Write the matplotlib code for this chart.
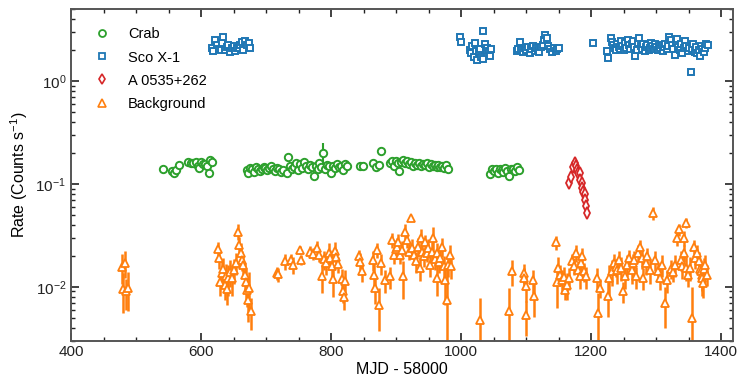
import numpy as np
import matplotlib
matplotlib.use("Agg")
import matplotlib.pyplot as plt
from matplotlib.ticker import MultipleLocator, LogLocator, NullFormatter

plt.rcParams['font.family'] = ['Liberation Sans', 'DejaVu Sans']
plt.rcParams['mathtext.fontset'] = 'custom'
plt.rcParams['mathtext.rm'] = 'Liberation Sans'
plt.rcParams['mathtext.it'] = 'Liberation Sans:italic'

# Crab (MJD - 58000, rate, error)
crab_mjd = [542, 555, 558, 562, 566,
            580, 585, 588, 592, 595, 597, 600, 603, 606, 609, 612, 613, 616,
            670, 672, 675, 678, 681, 684, 687, 690, 693, 696, 699, 702, 705, 708, 711, 714, 717, 720, 723, 726,
            732, 734, 737, 740, 743, 746, 749, 752, 755, 758, 761, 764, 767, 770, 773, 776, 779, 782, 785, 788,
            791, 794, 797, 800, 803, 806, 809, 812, 815, 818, 821, 824,
            845, 849, 865, 869, 873, 876,
            891, 894, 897, 900, 903, 905, 908, 911, 914, 917, 920, 923, 926, 929, 932, 935, 938, 941, 944, 947,
            950, 953, 956, 959, 962, 965, 968, 971, 974, 977, 980,
            1045, 1047, 1050, 1053, 1056, 1059, 1062, 1065, 1068, 1071, 1074, 1077, 1080, 1083, 1086, 1089]
crab_rate = [0.140, 0.134, 0.128, 0.137, 0.152,
             0.164, 0.158, 0.160, 0.162, 0.150, 0.144, 0.164, 0.155, 0.157, 0.148, 0.128, 0.171, 0.162,
             0.135, 0.128, 0.142, 0.138, 0.130, 0.145, 0.140, 0.133, 0.138, 0.146, 0.141, 0.136, 0.143, 0.148, 0.139, 0.134, 0.144, 0.140, 0.131, 0.137,
             0.128, 0.184, 0.150, 0.138, 0.145, 0.160, 0.135, 0.155, 0.142, 0.163, 0.148, 0.138, 0.152, 0.145, 0.120, 0.150, 0.140, 0.158, 0.146, 0.200,
             0.138, 0.152, 0.148, 0.128, 0.150, 0.142, 0.156, 0.145, 0.150, 0.137, 0.155, 0.148,
             0.150, 0.148, 0.160, 0.145, 0.153, 0.210,
             0.158, 0.165, 0.150, 0.168, 0.160, 0.132, 0.162, 0.170, 0.158, 0.166, 0.155, 0.163, 0.150, 0.158, 0.152, 0.160, 0.148, 0.156, 0.151, 0.158,
             0.146, 0.155, 0.149, 0.153, 0.145, 0.152, 0.147, 0.150, 0.143, 0.152, 0.138,
             0.125, 0.140, 0.132, 0.138, 0.128, 0.140, 0.135, 0.130, 0.142, 0.134, 0.118, 0.138, 0.140, 0.132, 0.145, 0.136]
crab_err = [0.008, 0.010, 0.006, 0.006, 0.006,
            0.006, 0.006, 0.006, 0.006, 0.006, 0.008, 0.006, 0.006, 0.006, 0.006, 0.006, 0.006, 0.006,
            0.006, 0.006, 0.006, 0.006, 0.006, 0.006, 0.006, 0.006, 0.006, 0.006, 0.006, 0.006, 0.006, 0.006, 0.006, 0.006, 0.006, 0.006, 0.006, 0.006,
            0.006, 0.008, 0.006, 0.006, 0.006, 0.006, 0.006, 0.006, 0.006, 0.006, 0.006, 0.006, 0.006, 0.006, 0.006, 0.006, 0.006, 0.006, 0.006, 0.050,
            0.006, 0.006, 0.006, 0.006, 0.006, 0.006, 0.006, 0.006, 0.006, 0.006, 0.006, 0.006,
            0.006, 0.006, 0.006, 0.006, 0.006, 0.020,
            0.006, 0.006, 0.006, 0.006, 0.006, 0.006, 0.006, 0.006, 0.006, 0.006, 0.006, 0.006, 0.006, 0.006, 0.006, 0.006, 0.006, 0.006, 0.006, 0.006,
            0.006, 0.006, 0.006, 0.006, 0.006, 0.006, 0.006, 0.006, 0.006, 0.006, 0.008,
            0.010, 0.006, 0.006, 0.006, 0.006, 0.006, 0.006, 0.006, 0.006, 0.006, 0.012, 0.006, 0.006, 0.006, 0.006, 0.006]

# Sco X-1
sco_mjd = [616, 618, 621, 624, 627, 630, 632, 634, 637, 640, 642, 645, 647, 650, 652, 655, 658, 660, 663, 665, 668, 670, 673, 675,
           998, 999, 1013, 1015, 1017, 1019, 1021, 1023, 1025, 1027, 1029, 1031, 1033, 1034, 1036, 1038, 1040, 1042, 1044, 1046,
           1086, 1088, 1090, 1092, 1095, 1098, 1100, 1103, 1106, 1108, 1110, 1113, 1115, 1118, 1120, 1122, 1125, 1127, 1129,
           1132, 1134, 1137, 1140, 1142, 1145, 1148, 1151,
           1202, 1224, 1226, 1230, 1232, 1234, 1236, 1238, 1240, 1242, 1244, 1246, 1248, 1250, 1252, 1254, 1256, 1258, 1260,
           1262, 1264, 1266, 1268, 1270, 1272, 1274, 1276, 1278, 1280, 1282, 1284, 1286, 1288, 1290, 1292, 1294, 1296, 1298,
           1300, 1302, 1304, 1306, 1308, 1310, 1312, 1314, 1316, 1318, 1320, 1322, 1324, 1326, 1328, 1330, 1332, 1334, 1336,
           1338, 1340, 1342, 1344, 1346, 1348, 1350, 1353, 1355, 1357, 1359, 1361, 1363, 1365, 1367, 1369, 1371, 1373, 1375,
           1377, 1380]
sco_rate = [2.08, 1.95, 2.50, 2.24, 2.05, 1.98, 2.34, 2.69, 2.00, 2.15, 2.24, 1.92, 2.08, 2.20, 1.97, 2.08, 2.10, 2.24, 2.37, 2.00, 2.45, 2.25, 2.34, 2.10,
            2.65, 2.41, 2.00, 1.85, 2.20, 1.70, 2.35, 1.95, 1.60, 1.90, 2.05, 1.70, 3.08, 1.62, 2.30, 2.00, 2.10, 1.95, 1.75, 2.05,
            1.95, 2.05, 2.40, 2.00, 1.90, 2.10, 2.00, 2.15, 1.85, 2.05, 2.20, 1.95, 2.10, 2.00, 1.90, 2.15, 2.25, 2.50, 2.80,
            2.60, 2.20, 2.05, 1.90, 2.10, 1.95, 2.05, 2.10,
            2.36, 1.95, 1.66, 2.60, 2.40, 2.25, 2.10, 2.00, 2.30, 2.15, 2.05, 2.45, 2.20, 2.00, 2.35, 2.10, 2.50, 2.25, 2.05,
            2.30, 2.45, 2.15, 1.75, 2.00, 2.35, 2.60, 2.20, 2.05, 2.30, 1.95, 2.15, 2.25, 2.00, 2.10, 2.35, 2.20, 2.05, 2.30,
            2.15, 2.00, 2.20, 2.10, 2.25, 1.95, 2.15, 2.30, 2.05, 2.20, 2.70, 2.50, 2.25, 2.05, 1.80, 2.40, 2.55, 2.15, 2.00,
            2.30, 1.85, 2.10, 2.45, 2.20, 1.95, 2.10, 1.21, 2.05, 2.30, 1.90, 2.15, 1.85, 2.00, 1.75, 2.20, 2.05, 1.90, 2.10,
            2.30, 2.25]

# A 0535+262
a0535_mjd = [1166, 1169, 1172, 1175, 1177, 1178, 1180, 1182, 1183, 1185, 1186, 1188, 1190, 1191, 1192, 1194]
a0535_rate = [0.102, 0.117, 0.146, 0.160, 0.150, 0.137, 0.128, 0.128, 0.109, 0.102, 0.092, 0.083, 0.080, 0.070, 0.061, 0.052]

# Background
bkg_mjd = [478, 480, 483, 485, 487,
           626, 627, 629, 632, 634, 636, 638, 640, 642, 645, 648, 651, 654, 656, 658, 661, 663, 665, 667, 669, 670, 672, 674, 676,
           716, 718, 729, 738, 741, 752, 754, 767, 772, 778, 782, 786, 789, 792, 796, 798, 801, 803, 806, 808, 811,
           816, 818, 820, 822, 843, 845, 847, 864, 866, 867, 871, 873, 876, 883, 891,
           894, 896, 899, 901, 903, 906, 909, 911, 914, 917, 920, 922, 925, 928, 931, 934, 937, 938, 940, 942, 945, 947,
           949, 952, 955, 957, 960, 962, 963, 966, 968, 971, 974, 975, 978, 980, 982, 985,
           1029, 1074, 1078, 1096, 1097, 1099, 1100, 1111, 1112,
           1146, 1147, 1149, 1152, 1155, 1158, 1160, 1163, 1165, 1171, 1174, 1177, 1180, 1182, 1184, 1186, 1189, 1192,
           1209, 1211, 1214, 1225, 1227, 1232, 1235, 1238, 1240, 1243, 1246, 1249, 1252, 1255, 1258, 1262, 1264, 1266,
           1269, 1272, 1275, 1278, 1280, 1284, 1286, 1291, 1295, 1298, 1302, 1306, 1309, 1314, 1317, 1322, 1326, 1329,
           1332, 1335, 1338, 1340, 1342, 1343, 1345, 1346, 1349, 1352, 1355, 1358, 1360, 1362, 1365, 1367, 1368, 1370,
           1371, 1372, 1374, 1375, 1378]
bkg_rate = [0.0157, 0.0096, 0.0171, 0.0090, 0.0098,
            0.0235, 0.0190, 0.0112, 0.0137, 0.0150, 0.0105, 0.0128, 0.0096, 0.0122, 0.0140, 0.0122, 0.0146, 0.0171, 0.0343,
            0.0256, 0.0214, 0.0183, 0.0163, 0.0130, 0.0112, 0.0094, 0.0075, 0.0098, 0.0058,
            0.0137, 0.0132, 0.0177, 0.0180, 0.0163, 0.0229, 0.0183, 0.0220, 0.0210, 0.0240, 0.0205, 0.0126, 0.0185, 0.0170,
            0.0215, 0.0190, 0.0160, 0.0120, 0.0225, 0.0195, 0.0165,
            0.0120, 0.0090, 0.0080, 0.0115, 0.0198, 0.0175, 0.0141, 0.0183, 0.0130, 0.0098, 0.0229, 0.0067, 0.0170, 0.0117, 0.0126,
            0.0286, 0.0205, 0.0235, 0.0246, 0.0275, 0.0205, 0.0230, 0.0126, 0.0343, 0.0286, 0.0220, 0.0470, 0.0239, 0.0205,
            0.0177, 0.0246, 0.0153, 0.0300, 0.0220, 0.0197, 0.0270, 0.0215,
            0.0239, 0.0163, 0.0220, 0.0300, 0.0185, 0.0214, 0.0122, 0.0175, 0.0190, 0.0246, 0.0159, 0.0117, 0.0075, 0.0163, 0.0205, 0.0159,
            0.0048, 0.0058, 0.0141, 0.0137, 0.0122, 0.0101, 0.0053, 0.0117, 0.0081,
            0.0270, 0.0112, 0.0153, 0.0131, 0.0117, 0.0125, 0.0094, 0.0105, 0.0122, 0.0177, 0.0159, 0.0214, 0.0146, 0.0126,
            0.0170, 0.0197, 0.0141, 0.0126,
            0.0122, 0.0056, 0.0098, 0.0081, 0.0122, 0.0141, 0.0170, 0.0155, 0.0146, 0.0183, 0.0153, 0.0090, 0.0126, 0.0163,
            0.0190, 0.0146, 0.0170, 0.0183,
            0.0126, 0.0214, 0.0246, 0.0190, 0.0122, 0.0170, 0.0197, 0.0146, 0.0520, 0.0183, 0.0141, 0.0122, 0.0163, 0.0070,
            0.0117, 0.0150, 0.0140, 0.0163,
            0.0300, 0.0360, 0.0183, 0.0160, 0.0214, 0.0300, 0.0420, 0.0153, 0.0130, 0.0153, 0.0050, 0.0246, 0.0190, 0.0214,
            0.0177, 0.0150, 0.0141, 0.0130,
            0.0122, 0.0108, 0.0150, 0.0163, 0.0131]
bkg_err = [0.005, 0.004, 0.005, 0.003, 0.004,
           0.004, 0.004, 0.003, 0.004, 0.004, 0.003, 0.004, 0.003, 0.004, 0.004, 0.004, 0.004, 0.004, 0.006,
           0.005, 0.005, 0.004, 0.004, 0.004, 0.004, 0.003, 0.003, 0.004, 0.002,
           0.002, 0.002, 0.003, 0.003, 0.003, 0.002, 0.002, 0.003, 0.003, 0.004, 0.003, 0.004, 0.004, 0.004,
           0.005, 0.004, 0.004, 0.004, 0.005, 0.004, 0.003,
           0.003, 0.002, 0.002, 0.003, 0.003, 0.004, 0.003, 0.004, 0.004, 0.003, 0.004, 0.003, 0.004, 0.003, 0.003,
           0.005, 0.004, 0.005, 0.005, 0.005, 0.004, 0.005, 0.005, 0.006, 0.005, 0.004, 0.001, 0.005, 0.004,
           0.004, 0.005, 0.004, 0.006, 0.004, 0.004, 0.005, 0.004,
           0.005, 0.004, 0.005, 0.008, 0.004, 0.005, 0.004, 0.004, 0.004, 0.005, 0.004, 0.005, 0.008, 0.004, 0.005, 0.004,
           0.003, 0.004, 0.004, 0.003, 0.003, 0.003, 0.002, 0.003, 0.003,
           0.004, 0.005, 0.004, 0.003, 0.003, 0.003, 0.002, 0.003, 0.003, 0.003, 0.003, 0.004, 0.003, 0.003,
           0.003, 0.004, 0.003, 0.003,
           0.003, 0.003, 0.002, 0.003, 0.004, 0.004, 0.004, 0.003, 0.004, 0.004, 0.004, 0.002, 0.003, 0.004,
           0.004, 0.004, 0.004, 0.004,
           0.003, 0.004, 0.004, 0.004, 0.003, 0.004, 0.004, 0.004, 0.007, 0.004, 0.003, 0.003, 0.004, 0.003,
           0.003, 0.003, 0.003, 0.004,
           0.005, 0.005, 0.004, 0.004, 0.004, 0.005, 0.005, 0.004, 0.003, 0.004, 0.005, 0.004, 0.004, 0.004,
           0.004, 0.004, 0.004, 0.004,
           0.004, 0.003, 0.004, 0.004, 0.003]

green = '#2ca02c'
blue = '#1f77b4'
red = '#d62728'
orange = '#ff7f0e'

fig = plt.figure(figsize=(7.48, 3.91), dpi=100)
ax = fig.add_axes([0.095, 0.129, 0.885, 0.848])

ax.errorbar(bkg_mjd, bkg_rate, yerr=bkg_err, fmt='none', ecolor=orange, elinewidth=1.8, capsize=0, zorder=2)
ax.plot(bkg_mjd, bkg_rate, ls='none', marker='^', ms=5.8, mfc='white', mec=orange, mew=1.3, zorder=3)

ax.errorbar(crab_mjd, crab_rate, yerr=crab_err, fmt='none', ecolor=green, elinewidth=1.5, capsize=0, zorder=2)
ax.plot(crab_mjd, crab_rate, ls='none', marker='o', ms=5.3, mfc='white', mec=green, mew=1.4, zorder=3)

ax.plot(sco_mjd, sco_rate, ls='none', marker='s', ms=5.0, mfc='white', mec=blue, mew=1.4, zorder=3)
ax.plot(a0535_mjd, a0535_rate, ls='none', marker='d', ms=5.8, mfc='white', mec=red, mew=1.3, zorder=3)

# legend handles (markers only)
h1, = ax.plot([], [], ls='none', marker='o', ms=5, mfc='white', mec=green, mew=1.3, label='Crab')
h2, = ax.plot([], [], ls='none', marker='s', ms=4.6, mfc='white', mec=blue, mew=1.3, label='Sco X-1')
h3, = ax.plot([], [], ls='none', marker='d', ms=5.5, mfc='white', mec=red, mew=1.2, label='A 0535+262')
h4, = ax.plot([], [], ls='none', marker='^', ms=5.5, mfc='white', mec=orange, mew=1.2, label='Background')
ax.legend(handles=[h1, h2, h3, h4], loc='upper left', frameon=False, fontsize=10.5,
          handlelength=1.0, handletextpad=1.3, labelspacing=0.62, borderaxespad=0.3,
          bbox_to_anchor=(0.02, 0.975))

ax.set_yscale('log')
ax.set_xlim(400, 1418)
ax.set_ylim(0.003, 5)
ax.xaxis.set_major_locator(MultipleLocator(200))
ax.xaxis.set_minor_locator(MultipleLocator(50))
ax.yaxis.set_major_locator(LogLocator(base=10, numticks=10))
ax.yaxis.set_minor_locator(LogLocator(base=10, subs=np.arange(2, 10), numticks=20))
ax.yaxis.set_minor_formatter(NullFormatter())

ax.tick_params(which='both', direction='in', top=True, right=True, labelsize=11, colors='#222222')
ax.tick_params(which='major', length=6, width=1.2)
ax.tick_params(which='minor', length=3, width=1.0)
for s in ax.spines.values():
    s.set_linewidth(1.4)
    s.set_color('#555555')

ax.set_xlabel('MJD - 58000', fontsize=11.5, labelpad=2)
ax.set_ylabel('Rate (Counts s$^{-1}$)', fontsize=11.5, labelpad=4)

fig.savefig('out.png', dpi=100)
